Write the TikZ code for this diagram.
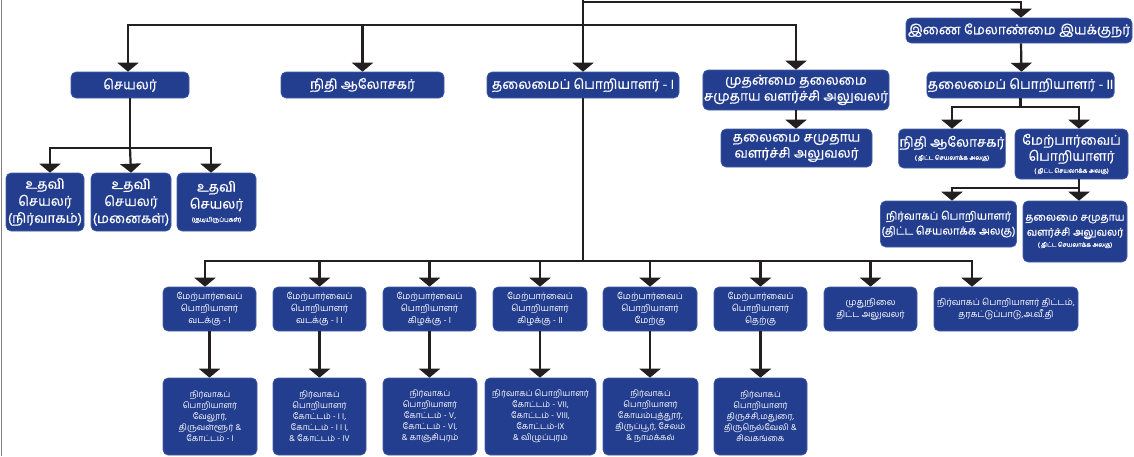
\documentclass[tikz,border=0pt]{standalone}
\usepackage{fontspec}
\newfontfamily\tamil[Script=Tamil]{Hind Madurai}
\newfontfamily\tamilb[Script=Tamil,FakeBold=0.6]{Hind Madurai}
\usetikzlibrary{arrows.meta}
\definecolor{boxblue}{RGB}{36,62,143}
\definecolor{boxedge}{RGB}{70,95,165}
\definecolor{linec}{RGB}{35,31,32}
\newcommand{\fsz}[2]{\fontsize{#1}{#2}\selectfont}
\newcommand{\tinyln}[1]{{\fsz{6}{8}#1}}
\tikzset{
  box/.style={draw=boxedge, line width=0.6pt, fill=boxblue, rounded corners=5pt,
    text=white, align=center, inner sep=1pt},
  wh/.style 2 args={minimum width=#1pt, minimum height=#2pt},
  Lone/.style={box, font=\tamilb\fsz{13.5}{17}},
  Ltwo/.style={box, font=\tamilb\fsz{10.5}{14}},
  Lthree/.style={box, font=\tamil\fsz{9}{12}},
  Lfour/.style={box, font=\tamil\fsz{8.5}{11}},
  conn/.style={draw=linec, line width=2.2pt},
  arr/.style={conn, -{Triangle[width=21pt,length=9pt]}}
}
\begin{document}
\begin{tikzpicture}[x=1pt,y=-1pt]
\useasboundingbox (0,0) rectangle (1134,456);
\fill[white] (0,0) rectangle (1134,456);
\draw[gray, line width=1.2pt] (1.5,0) -- (1.5,456);

% level 1
\node[Lone, wh={118}{26}] (secy) at (130,85) {செயலர்};
\node[Lone, wh={163}{26}] (fa1) at (362.5,85) {நிதி ஆலோசகர்};
\node[Lone, wh={192}{26}] (ce1) at (583,85) {தலைமைப் பொறியாளர் - I};
\node[Lone, wh={184}{40}] (mudhal) at (796,90) {முதன்மை தலைமை\\[-1pt]சமுதாய வளர்ச்சி அலுவலர்};
\node[Lone, wh={226}{25}] (imd) at (1019,30.5) {இணை மேலாண்மை இயக்குநர்};
\node[Lone, wh={183}{26}] (ce2) at (1020.5,85) {தலைமைப் பொறியாளர் - II};

% level 2 right
\node[Lone, wh={151}{38}] (tcdo) at (796.5,148) {தலைமை சமுதாய\\[-1pt]வளர்ச்சி அலுவலர்};
\node[Lone, wh={104}{39}] (fa2) at (952,148.5) {நிதி ஆலோசகர்\\[-4pt]\tinyln{( திட்ட செயலாக்க அலகு)}};
\node[Lone, wh={113}{50}] (se2) at (1071.5,154) {மேற்பார்வைப்\\[-1pt]பொறியாளர்\\[-5pt]\tinyln{( திட்ட செயலாக்க அலகு)}};
\node[Ltwo, wh={125}{46}, font=\tamilb\fsz{11}{14}] (ee3) at (948.5,224) {நிர்வாகப் பொறியாளர்\\[1pt](திட்ட செயலாக்க அலகு)};
\node[Ltwo, wh={104}{61}] (tcdo2) at (1075,231.5) {தலைமை சமுதாய\\[1pt]வளர்ச்சி அலுவலர்\\[-3pt]\tinyln{( திட்ட செயலாக்க அலகு)}};

% secretary children
\node[Lone, wh={78}{58}] (as1) at (45,202) {உதவி\\செயலர்\\(நிர்வாகம்)};
\node[Lone, wh={80}{58}] (as2) at (131,202) {உதவி\\செயலர்\\(மனைகள்)};
\node[Lone, wh={79}{58}] (as3) at (216.5,202) {உதவி\\செயலர்\\[-4pt]\tinyln{(குடியிருப்புகள்)}};

% level 3
\node[Lthree, wh={93}{44}] (sen1) at (209.5,309) {மேற்பார்வைப்\\பொறியாளர்\\வடக்கு - I};
\node[Lthree, wh={93}{44}] (sen2) at (319.5,309) {மேற்பார்வைப்\\பொறியாளர்\\வடக்கு - I I};
\node[Lthree, wh={93}{44}] (see1) at (429.5,309) {மேற்பார்வைப்\\பொறியாளர்\\கிழக்கு - I};
\node[Lthree, wh={94}{44}] (see2) at (540,309) {மேற்பார்வைப்\\பொறியாளர்\\கிழக்கு - II};
\node[Lthree, wh={94}{44}] (sew) at (650,309) {மேற்பார்வைப்\\பொறியாளர்\\மேற்கு};
\node[Lthree, wh={93}{44}] (ses) at (760.5,309) {மேற்பார்வைப்\\பொறியாளர்\\தெற்கு};
\node[Lthree, wh={93}{44}] (cpo) at (870.5,309) {முதுநிலை\\திட்ட அலுவலர்};
\node[Lthree, wh={144}{44}] (eeqc) at (1006,309) {நிர்வாகப் பொறியாளர் திட்டம்,\\தரகட்டுப்பாடு,அ.வீ.தி};

% level 4
\node[Lfour, wh={94}{77}] (ee1) at (210,416.5) {நிர்வாகப்\\பொறியாளர்\\வேலூர்,\\திருவள்ளூர் \&\\கோட்டம் - I};
\node[Lfour, wh={93}{77}] (ee2) at (319.5,416.5) {நிர்வாகப்\\பொறியாளர்\\கோட்டம் -  I I,\\கோட்டம் - I I I,\\\& கோட்டம் - IV};
\node[Lfour, wh={94}{77}] (ee3b) at (430,416.5) {நிர்வாகப்\\பொறியாளர்\\கோட்டம்  - V,\\கோட்டம்  - VI,\\\& காஞ்சிபுரம்};
\node[Lfour, wh={111}{77}] (ee4) at (540.5,416.5) {நிர்வாகப் பொறியாளர்\\கோட்டம்  - VII,\\கோட்டம் - VIII,\\கோட்டம்-IX\\\& விழுப்புரம்};
\node[Lfour, wh={95}{77}] (ee5) at (650.5,416.5) {நிர்வாகப்\\பொறியாளர்\\கோயம்புத்தூர்,\\திருப்பூர், சேலம்\\\& நாமக்கல்};
\node[Lfour, wh={93}{77}] (ee6) at (760.5,416.5) {நிர்வாகப்\\பொறியாளர்\\திருச்சி,மதுரை,\\திருநெல்வேலி \&\\சிவகங்கை};

% junction coordinates
\coordinate (top) at (583,0);
\coordinate (bus0) at (583,2);
\coordinate (bus1) at (583,25);
\coordinate (b2) at (1020.5,107);
\coordinate (b3) at (1079,188);
\coordinate (b4) at (130,148);
\coordinate (b5) at (583,261);

% connectors
\draw[arr] (top) -- (ce1.north);
\draw[arr] (bus0) -| ([xshift=2pt]imd.north);
\draw[arr] (bus1) -| ([xshift=-2pt]secy.north);
\draw[arr] (bus1) -| (fa1.north);
\draw[arr] (bus1) -| (mudhal.north);
\draw[arr] ([xshift=2pt]imd.south) -- ([xshift=1pt]ce2.north);
\draw[arr] (mudhal.south) -- (mudhal.south |- tcdo.north);

\draw[conn] (ce2.south) -- (b2);
\draw[arr] (b2) -| (fa2.north);
\draw[arr] (b2) -| ([xshift=7.5pt]se2.north);
\draw[conn] ([xshift=7.5pt]se2.south) -- (b3);
\draw[arr] (b3) -| ([xshift=3.5pt]ee3.north);
\draw[arr] (b3) -- ([xshift=4pt]tcdo2.north);

\draw[conn] (secy.south) -- (b4);
\draw[arr] (b4) -| ([xshift=5pt]as1.north);
\draw[arr] (b4) -- (as2.north);
\draw[arr] (b4) -| ([xshift=-5.5pt]as3.north);

\draw[conn] (ce1.south) -- (b5);
\draw[arr] (b5) -| ([xshift=-4.5pt]sen1.north);
\draw[arr] (b5) -| (sen2.north);
\draw[arr] (b5) -| (see1.north);
\draw[arr] (b5) -| (see2.north);
\draw[arr] (b5) -| (sew.north);
\draw[arr] (b5) -| (ses.north);
\draw[arr] (b5) -| (cpo.north);
\draw[arr] (b5) -| ([xshift=-34pt]eeqc.north);

\draw[arr] (sen1.south) -- (sen1.south |- ee1.north);
\draw[arr] (sen2.south) -- (sen2.south |- ee2.north);
\draw[arr] (see1.south) -- (see1.south |- ee3b.north);
\draw[arr] (see2.south) -- (see2.south |- ee4.north);
\draw[arr] (sew.south) -- (sew.south |- ee5.north);
\draw[arr] (ses.south) -- (ses.south |- ee6.north);
\end{tikzpicture}
\end{document}
